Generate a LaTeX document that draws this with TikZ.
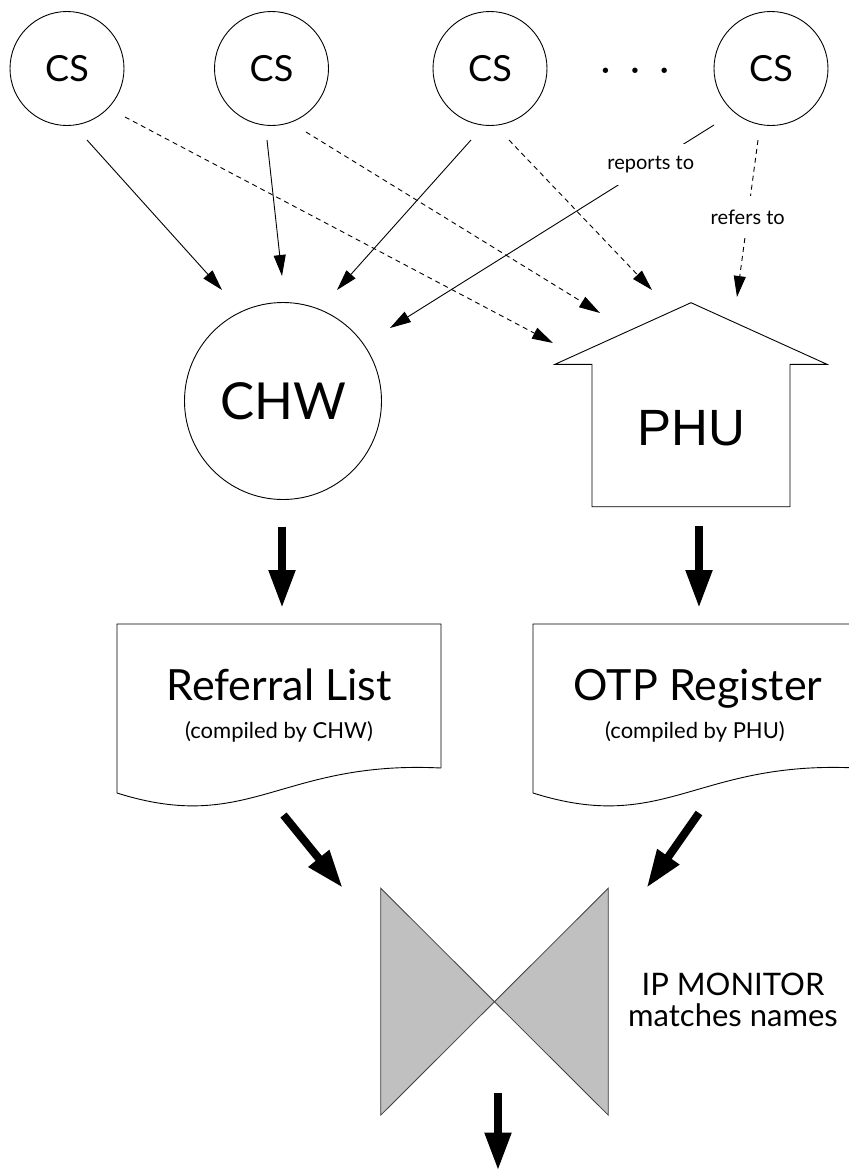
\documentclass[tikz,border=0pt]{standalone}
\usepackage{fontspec}
\setmainfont{Lato}
\newfontfamily\helvfont{Liberation Sans}
\usetikzlibrary{arrows.meta,calc}

\begin{document}
\begin{tikzpicture}[x=1pt,y=-1pt,
  every node/.style={inner sep=0pt, outer sep=0pt},
  thin line/.style={line width=0.9pt},
  csnode/.style={circle, draw, thin line, minimum size=114pt,
    font=\fontsize{36}{40}\selectfont},
  bignode/.style={font=\fontsize{51}{56}\selectfont},
  doctitle/.style={anchor=base, font=\fontsize{43}{48}\selectfont},
  docsub/.style={anchor=base, font=\fontsize{22}{26}\selectfont},
  docbox/.style={minimum width=324pt, minimum height=144pt},
  smalllabel/.style={fill=white, font=\fontsize{20}{22}\selectfont},
  link/.style={thin line, -{Triangle[length=21pt,width=12pt]}},
  reflink/.style={link, dash pattern=on 5pt off 4pt},
  flow/.style={line width=8pt, -{Triangle[length=38pt,width=25pt]}},
  bowfill/.style={fill={rgb,255:red,192;green,192;blue,192}, draw=black!75, line width=0.8pt},
]
\useasboundingbox (0,0) rectangle (849,1171);

% ---- community sources ----
\node[csnode] (cs1) at (67,68.5) {CS};
\node[csnode] (cs2) at (271.5,68.5) {CS};
\node[csnode] (cs3) at (490,68.5) {CS};
\node[csnode] (cs4) at (771,68.5) {CS};
\node[anchor=base, font=\fontsize{36}{40}\selectfont] (dots) at (635,81)
  {\textperiodcentered\hspace{20pt}\textperiodcentered\hspace{20pt}\textperiodcentered};

% ---- community health worker ----
\node[circle, draw, thin line, minimum size=197pt, bignode] (chw) at (283,401) {CHW};

% ---- peripheral health unit (house) ----
\node[bignode, font=\helvfont\fontsize{51}{56}\selectfont] (phu) at (691,428) {PHU};
\draw[thin line, line join=miter]
  ($(phu)+(0,-125.3)$) -- ++(136,61.6) -- ++(-37,0) -- ++(0,142.4)
  -- ++(-198,0) -- ++(0,-142.4) -- ++(-37,0) -- cycle;

% ---- documents ----
\node[docbox] (ref) at (279,696) {};
\draw[thin line]
  (ref.south east) -- (ref.north east) -- (ref.north west) -- ($(ref.south west)+(0,25)$)
  .. controls +(133,42) and ($(ref.south east)+(-161,-8)$) .. (ref.south east);
\node[doctitle] (reftitle) at ($(ref.north)+(0,76)$) {Referral List};
\node[docsub] (refsub) at ($(ref.north)+(0,114)$) {(compiled by CHW)};

\node[docbox] (otp) at (695,696) {};
\draw[thin line]
  (otp.south east) -- (otp.north east) -- (otp.north west) -- ($(otp.south west)+(0,25)$)
  .. controls +(133,42) and ($(otp.south east)+(-161,-8)$) .. (otp.south east);
\node[doctitle] (otptitle) at ($(otp.north)+(3,76)$) {OTP Register};
\node[docsub] (otpsub) at ($(otp.north)+(0,114)$) {(compiled by PHU)};

% ---- IP monitor (bow tie) ----
\node[minimum width=227.6pt, minimum height=227pt] (mon) at (494.5,1001.7) {};
\draw[bowfill] (mon.center) -- (mon.north west) -- (mon.south west) -- cycle;
\draw[bowfill] (mon.center) -- (mon.north east) -- (mon.south east) -- cycle;
\node[anchor=base, font=\fontsize{31}{34}\selectfont] (monlabel) at (733,995) {IP MONITOR};
\node[anchor=base, font=\fontsize{31}{34}\selectfont] (monsub) at (733,1026) {matches names};

% ---- reporting links (solid) ----
\draw[link] ($(cs1)+(20,71.5)$) -- ($(chw)+(-61,-111)$);
\draw[link] ($(cs2)+(-4.5,71.5)$) -- ($(chw)+(-1,-125)$);
\draw[link] ($(cs3)+(-19,71.5)$) -- ($(chw)+(54,-111)$);
\draw[link] ($(cs4)+(-57,56.5)$) -- node[smalllabel, pos=0.195, inner xsep=1pt, inner ysep=12pt] (rep) {reports to} ($(chw)+(107,-73)$);

% ---- referral links (dashed) ----
\draw[reflink] ($(cs1)+(58,48.5)$) -- ($(phu)+(-138,-85)$);
\draw[reflink] ($(cs2)+(34.5,63.5)$) -- ($(phu)+(-91,-115)$);
\draw[reflink] ($(cs3)+(19,71.5)$) -- ($(phu)+(-39,-138)$);
\draw[reflink] ($(cs4)+(-13,71.5)$) -- node[smalllabel, pos=0.49, inner xsep=1pt, inner ysep=14pt] (refl) {refers to} ($(phu)+(46,-131)$);

% ---- document flow ----
\draw[flow] ($(chw.south)+(-1,27)$) -- ($(chw.south |- ref.north)+(-1,-16)$);
\draw[flow] ($(phu)+(8,98)$) -- ($(phu |- otp.north)+(8,-16)$);
\draw[flow] ($(ref.south)+(4.5,47)$) -- ($(mon.north west)+(-38,-0.4)$);
\draw[flow] ($(otp.south)+(4,45)$) -- ($(mon.north east)+(38.3,-0.4)$);
\draw[flow] ($(mon.south)+(3.5,-22)$) -- ($(mon.south)+(3.5,55.3)$);
\end{tikzpicture}
\end{document}
